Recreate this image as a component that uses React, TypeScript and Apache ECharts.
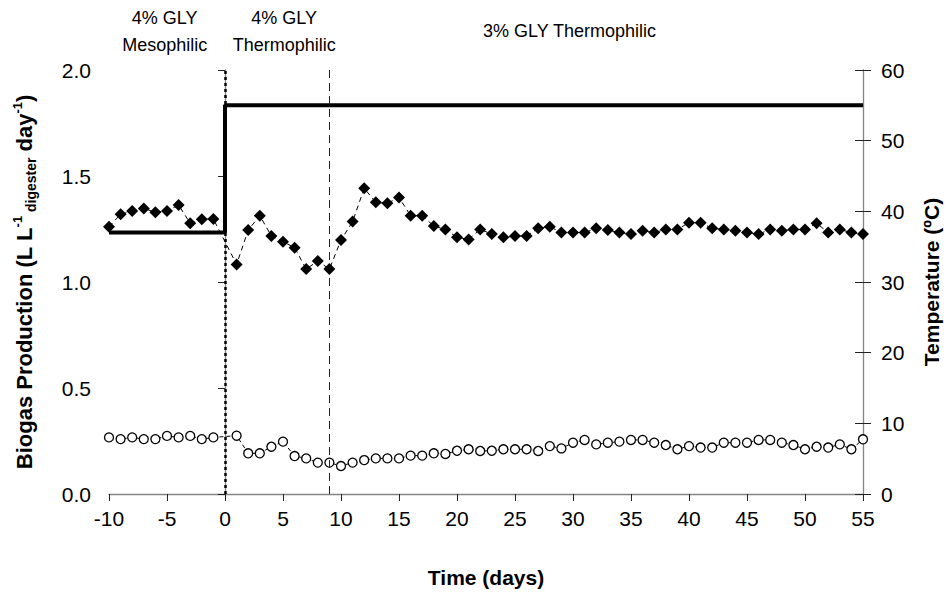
import React, { useEffect, useRef } from "react";
import * as echarts from "echarts";

// Sampling days (day 0 = switch to thermophilic operation, no sample taken)
const days = [
  -10, -9, -8, -7, -6, -5, -4, -3, -2, -1,
  1, 2, 3, 4, 5, 6, 7, 8, 9, 10,
  11, 12, 13, 14, 15, 16, 17, 18, 19, 20,
  21, 22, 23, 24, 25, 26, 27, 28, 29, 30,
  31, 32, 33, 34, 35, 36, 37, 38, 39, 40,
  41, 42, 43, 44, 45, 46, 47, 48, 49, 50,
  51, 52, 53, 54, 55,
];

// Biogas production, L L-1 digester day-1 (filled diamonds)
const biogas = [
  1.261, 1.319, 1.335, 1.347, 1.329, 1.335, 1.363, 1.277, 1.296, 1.297,
  1.083, 1.245, 1.313, 1.217, 1.19, 1.162, 1.061, 1.099, 1.061, 1.198,
  1.285, 1.442, 1.376, 1.371, 1.399, 1.313, 1.313, 1.264, 1.248, 1.211,
  1.201, 1.248, 1.226, 1.211, 1.217, 1.217, 1.253, 1.261, 1.233, 1.233,
  1.233, 1.253, 1.245, 1.233, 1.226, 1.242, 1.233, 1.248, 1.248, 1.28,
  1.28, 1.253, 1.248, 1.242, 1.233, 1.226, 1.248, 1.242, 1.248, 1.248,
  1.277, 1.233, 1.248, 1.233, 1.226,
];

// Second production series (open circles)
const openCircles = [
  0.267, 0.259, 0.267, 0.259, 0.259, 0.274, 0.267, 0.274, 0.259, 0.267,
  0.275, 0.192, 0.192, 0.223, 0.247, 0.179, 0.168, 0.148, 0.148, 0.132,
  0.148, 0.16, 0.168, 0.168, 0.168, 0.181, 0.181, 0.192, 0.189, 0.204,
  0.211, 0.203, 0.204, 0.211, 0.211, 0.211, 0.203, 0.226, 0.215, 0.242,
  0.255, 0.234, 0.242, 0.247, 0.255, 0.255, 0.242, 0.231, 0.211, 0.226,
  0.219, 0.219, 0.242, 0.242, 0.242, 0.255, 0.255, 0.242, 0.231, 0.211,
  0.223, 0.219, 0.234, 0.211, 0.258,
];

// Digester temperature set point, ºC
const tempDays = [-10, 0, 0, 55];
const tempC = [37, 37, 55, 55];

// Phase boundaries (days)
const glyThermoStart = 0;
const glyDropDay = 9;

// Phase captions across the top
const phaseCaptions = [
  { lines: ["4% GLY", "Mesophilic"], day: -5.2 },
  { lines: ["4% GLY", "Thermophilic"], day: 5.1 },
  { lines: ["3% GLY Thermophilic"], day: 29.7 },
];

const FONT = "'Liberation Sans', Arial, Helvetica, sans-serif";
const AXIS_GREY = "#858585";

export default function App() {
  const ref = useRef<HTMLDivElement>(null);

  useEffect(() => {
    const chart = echarts.init(ref.current!, null, { renderer: "svg" });

    const grid = { left: 109, right: 89, top: 70, bottom: 103 };
    const xMin = -10;
    const xMax = 55;
    const plotW = 952 - grid.left - grid.right;
    const xPix = (d: number) => grid.left + ((d - xMin) / (xMax - xMin)) * plotW;

    const captionText = (text: string, x: number, y: number) => ({
      type: "text",
      x,
      y,
      silent: true,
      style: {
        text,
        font: `18px ${FONT}`,
        fill: "#000",
        align: "center",
        verticalAlign: "middle",
      },
    });

    const captionGraphics: any[] = [];
    phaseCaptions.forEach((c) => {
      if (c.lines.length === 2) {
        captionGraphics.push(captionText(c.lines[0], xPix(c.day), 18));
        captionGraphics.push(captionText(c.lines[1], xPix(c.day), 45));
      } else {
        captionGraphics.push(captionText(c.lines[0], xPix(c.day), 31));
      }
    });

    chart.setOption({
      animation: false,
      backgroundColor: "#ffffff",
      textStyle: { fontFamily: FONT },
      grid: { ...grid, containLabel: false },
      graphic: captionGraphics,
      xAxis: {
        type: "value",
        min: xMin,
        max: xMax,
        interval: 5,
        name: "Time (days)",
        nameLocation: "middle",
        nameGap: 73,
        nameTextStyle: { fontSize: 21, fontWeight: "bold", color: "#000", fontFamily: FONT },
        axisLine: { show: true, lineStyle: { color: AXIS_GREY, width: 1.3 } },
        axisTick: { show: true, inside: false, length: 7, lineStyle: { color: "#222", width: 1 } },
        axisLabel: { color: "#000", fontSize: 21, margin: 14, fontFamily: FONT },
        splitLine: { show: false },
      },
      yAxis: [
        {
          type: "value",
          position: "left",
          min: 0,
          max: 2,
          interval: 0.5,
          name:
            "{b|Biogas Production (L L}{sup|-1}{sub| digester}{b| day}{sup|-1}{b|)}",
          nameLocation: "middle",
          nameRotate: 90,
          nameGap: 71,
          nameTextStyle: {
            rich: {
              b: { fontSize: 22, fontWeight: "bold", color: "#000", fontFamily: FONT, lineHeight: 27 },
              sup: { fontSize: 13, fontWeight: "bold", color: "#000", fontFamily: FONT, verticalAlign: "top", lineHeight: 14 },
              sub: { fontSize: 14, fontWeight: "bold", color: "#000", fontFamily: FONT, verticalAlign: "bottom", lineHeight: 15 },
            },
          },
          axisLine: { show: true, lineStyle: { color: AXIS_GREY, width: 1.3 } },
          axisTick: { show: true, inside: false, length: 7, lineStyle: { color: "#222", width: 1 } },
          axisLabel: {
            color: "#000",
            fontSize: 21,
            margin: 18,
            fontFamily: FONT,
            formatter: (v: number) => v.toFixed(1),
          },
          splitLine: { show: false },
        },
        {
          type: "value",
          position: "right",
          min: 0,
          max: 60,
          interval: 10,
          name: "Temperature (ºC)",
          nameLocation: "middle",
          nameRotate: 90,
          nameGap: 58,
          nameTextStyle: { fontSize: 21, fontWeight: "bold", color: "#000", fontFamily: FONT },
          axisLine: { show: true, lineStyle: { color: AXIS_GREY, width: 1.3 } },
          axisTick: { show: true, inside: false, length: 8, lineStyle: { color: "#222", width: 1 } },
          axisLabel: { color: "#000", fontSize: 21, margin: 18, fontFamily: FONT },
          splitLine: { show: false },
        },
        {
          // inner half of the cross ticks on the temperature axis
          type: "value",
          position: "right",
          min: 0,
          max: 60,
          interval: 10,
          axisLine: { show: false },
          axisTick: { show: true, inside: true, length: 8, lineStyle: { color: "#222", width: 1 } },
          axisLabel: { show: false },
          splitLine: { show: false },
        },
      ],
      series: [
        {
          name: "Temperature",
          type: "line",
          yAxisIndex: 1,
          data: tempDays.map((d, i) => [d, tempC[i]]),
          symbol: "none",
          lineStyle: { color: "#000", width: 4 },
          z: 3,
          silent: true,
        },
        {
          name: "Open circles",
          type: "line",
          yAxisIndex: 0,
          data: days.map((d, i) => [d, openCircles[i]]),
          symbol: "circle",
          symbolSize: 9,
          itemStyle: { color: "#fff", borderColor: "#000", borderWidth: 1.3 },
          lineStyle: { color: "#000", width: 1, type: [4, 3] },
          z: 4,
          silent: true,
        },
        {
          name: "Biogas production",
          type: "line",
          yAxisIndex: 0,
          data: days.map((d, i) => [d, biogas[i]]),
          symbol: "diamond",
          symbolSize: 12,
          itemStyle: { color: "#000", borderWidth: 0 },
          lineStyle: { color: "#000", width: 1, type: [5, 4] },
          z: 5,
          silent: true,
          markLine: {
            silent: true,
            symbol: "none",
            label: { show: false },
            animation: false,
            data: [
              { xAxis: glyThermoStart, lineStyle: { color: "#000", width: 2.5, type: [3, 3] } },
              { xAxis: glyDropDay, lineStyle: { color: "#222", width: 1, type: [8, 5] } },
            ],
          },
        },
      ],
    });

    return () => chart.dispose();
  }, []);

  return (
    <div
      ref={ref}
      style={{ position: "fixed", left: 0, top: 0, width: 952, height: 597, background: "#fff" }}
    />
  );
}
